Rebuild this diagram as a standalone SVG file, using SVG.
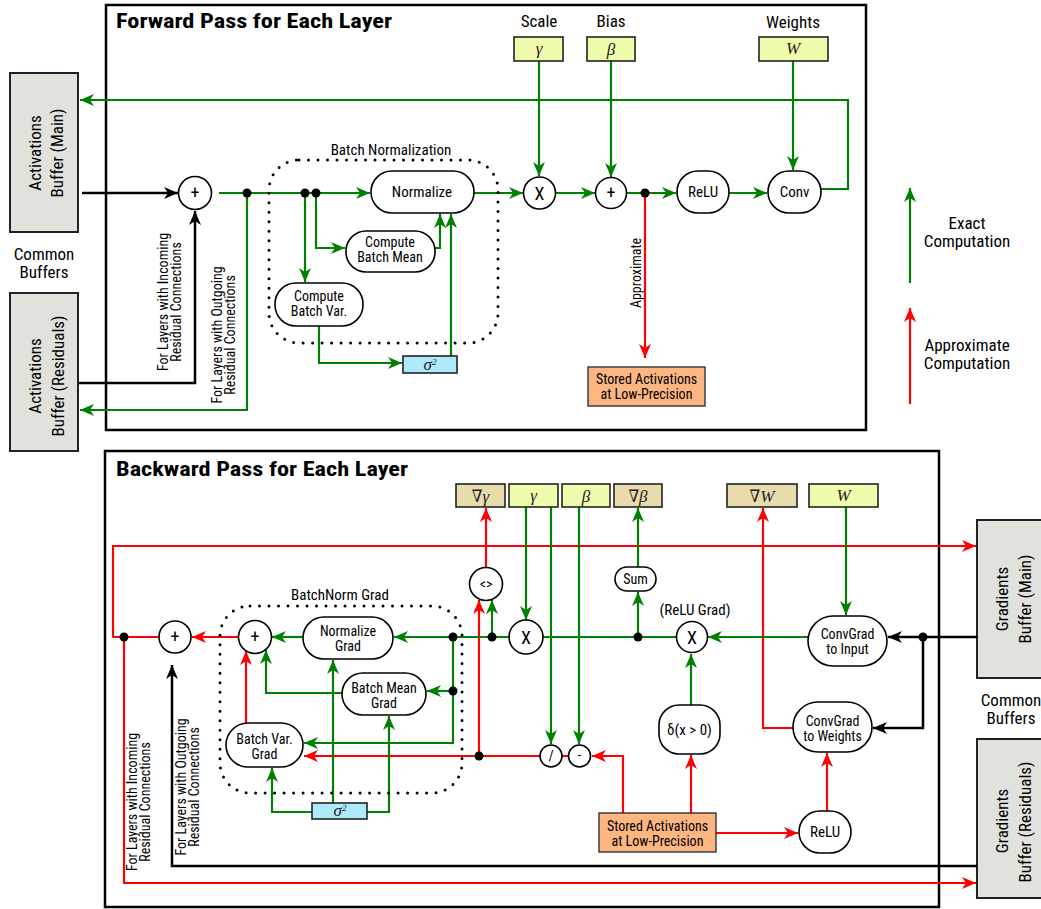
<svg xmlns="http://www.w3.org/2000/svg" width="1041" height="909" viewBox="0 0 1041 909">
<style>
text{font-family:Roboto,"Liberation Sans",sans-serif;font-stretch:condensed;font-size:15px;fill:#000;text-anchor:middle}
.title{font-weight:bold;font-size:21px;text-anchor:start}
.big{font-size:17px}
.lab{font-size:17px}
.two{font-size:14px}
.sm{font-size:14px}
.op{font-size:18px}
.m{font-family:"Liberation Serif","DejaVu Serif",serif;font-style:italic;font-size:17px;fill:#222}
.frame{fill:none;stroke:#000;stroke-width:2.5}
.buf{fill:#e2e2dc;stroke:#222;stroke-width:2}
.node{fill:#fff;stroke:#000;stroke-width:1.6}
.par{fill:#effcab;stroke:#222;stroke-width:1.6}
.grad{fill:#e8dcad;stroke:#222;stroke-width:1.6}
.sig{fill:#aeeafc;stroke:#222;stroke-width:1.6}
.act{fill:#fdb582;stroke:#333;stroke-width:1.4}
.dotbox{fill:none;stroke:#000;stroke-width:3;stroke-linecap:round;stroke-dasharray:0 9.5}
.g{fill:none;stroke:#008000;stroke-width:2.2}
.r{fill:none;stroke:#ff0000;stroke-width:2.2}
.k{fill:none;stroke:#000;stroke-width:2.5}
.ga{marker-end:url(#ag)}.ra{marker-end:url(#ar)}.ka{marker-end:url(#ak)}
</style>
<defs>
<marker id="ag" markerUnits="userSpaceOnUse" markerWidth="16" markerHeight="14" viewBox="-1 -7 16 14" refX="14" refY="0" orient="auto"><path d="M0,-6 L14,0 L0,6 L4,0 z" fill="#008000"/></marker>
<marker id="ar" markerUnits="userSpaceOnUse" markerWidth="16" markerHeight="14" viewBox="-1 -7 16 14" refX="14" refY="0" orient="auto"><path d="M0,-6 L14,0 L0,6 L4,0 z" fill="#ff0000"/></marker>
<marker id="ak" markerUnits="userSpaceOnUse" markerWidth="16" markerHeight="14" viewBox="-1 -7 16 14" refX="14" refY="0" orient="auto"><path d="M0,-6 L14,0 L0,6 L4,0 z" fill="#000"/></marker>
</defs>
<rect width="1041" height="909" fill="#fff"/>

<!-- frames -->
<g id="forward-frame">
<rect class="frame" x="106" y="5" width="760" height="425"/>
<text class="title" x="116" y="28" textLength="276" lengthAdjust="spacingAndGlyphs">Forward Pass for Each Layer</text>
</g>
<g id="backward-frame">
<rect class="frame" x="105" y="451" width="834" height="456"/>
<text class="title" x="116" y="476" textLength="292" lengthAdjust="spacingAndGlyphs">Backward Pass for Each Layer</text>
</g>

<!-- buffers -->
<g id="act-main"><rect class="buf" x="10" y="73" width="68" height="159"/>
<text class="big" transform="translate(41,153) rotate(-90)">Activations</text>
<text class="big" transform="translate(63,153) rotate(-90)">Buffer (Main)</text></g>
<g id="common-top"><text class="big" x="44" y="260">Common</text><text class="big" x="44" y="278">Buffers</text></g>
<g id="act-res"><rect class="buf" x="10" y="293" width="68" height="158"/>
<text class="big" transform="translate(41,376) rotate(-90)">Activations</text>
<text class="big" transform="translate(64,376) rotate(-90)">Buffer (Residuals)</text></g>
<g id="grad-main"><rect class="buf" x="977" y="520" width="70" height="158"/>
<text class="big" transform="translate(1008,599) rotate(-90)">Gradients</text>
<text class="big" transform="translate(1031,599) rotate(-90)">Buffer (Main)</text></g>
<g id="common-bot"><text class="big" x="1011" y="706">Common</text><text class="big" x="1011" y="724">Buffers</text></g>
<g id="grad-res"><rect class="buf" x="977" y="739" width="70" height="159"/>
<text class="big" transform="translate(1008,821) rotate(-90)">Gradients</text>
<text class="big" transform="translate(1031,822) rotate(-90)">Buffer (Residuals)</text></g>

<!-- legend -->
<g id="legend">
<path class="g ga" d="M910,283 V188"/>
<text class="big" x="967" y="229">Exact</text><text class="big" x="967" y="247">Computation</text>
<path class="r ra" d="M910,404 V308"/>
<text class="big" x="967" y="351">Approximate</text><text class="big" x="967" y="369">Computation</text>
</g>

<!-- forward connectors -->
<g id="forward-connectors">
<path class="k ka" d="M82,193 H178"/>
<path class="k ka" d="M79,383 H195 V211"/>
<path class="g ga" d="M219,193 H370"/>
<path class="g ga" d="M247,193 V410 H80"/>
<path class="g ga" d="M305,193 V282"/>
<path class="g ga" d="M316,193 V248 H345"/>
<path class="g ga" d="M435,248 H440 V214"/>
<path class="g ga" d="M451,356 V214"/>
<path class="g ga" d="M319,326 V363 H402"/>
<path class="g ga" d="M474,193 H523"/>
<path class="g ga" d="M539,61 V176"/>
<path class="g ga" d="M556,193 H595"/>
<path class="g ga" d="M611,61 V177"/>
<path class="g ga" d="M627,193 H676"/>
<path class="g ga" d="M729,193 H767"/>
<path class="g ga" d="M793,61 V170"/>
<path class="g ga" d="M821,189 H848 V100 H80"/>
<path class="r ra" d="M645,193 V358"/>
<g fill="#000"><circle cx="247" cy="193" r="4.5"/><circle cx="305" cy="193" r="4.5"/><circle cx="316" cy="193" r="4.5"/><circle cx="645" cy="193" r="4.5"/></g>
<text class="sm" transform="translate(181,302) rotate(-90)"><tspan x="0" dy="-13">For Layers with Incoming</tspan><tspan x="0" dy="13">Residual Connections</tspan></text>
<text class="sm" transform="translate(235,335) rotate(-90)"><tspan x="0" dy="-13">For Layers with Outgoing</tspan><tspan x="0" dy="13">Residual Connections</tspan></text>
<text class="sm" transform="translate(641,273) rotate(-90)">Approximate</text>
</g>

<!-- forward nodes -->
<g id="bn-group"><rect class="dotbox" x="269" y="160" width="229" height="183" rx="30"/><text x="391" y="155">Batch Normalization</text></g>
<g id="f-plus1"><circle class="node" cx="195" cy="193" r="16.5"/><text class="op" x="195" y="199">+</text></g>
<g id="f-normalize"><rect class="node" x="371" y="171" width="103" height="42" rx="21"/><text x="422" y="197">Normalize</text></g>
<g id="f-mean"><rect class="node" x="346" y="231" width="89" height="41" rx="20"/><text class="two" x="390" y="247">Compute</text><text class="two" x="390" y="262">Batch Mean</text></g>
<g id="f-var"><rect class="node" x="275" y="283" width="88" height="43" rx="21"/><text class="two" x="319" y="301">Compute</text><text class="two" x="319" y="316">Batch Var.</text></g>
<g id="f-sigma"><rect class="sig" x="403" y="356" width="54" height="17"/><text class="m" x="430" y="370" font-size="13">σ<tspan font-size="9" dy="-5">2</tspan></text></g>
<g id="f-gamma"><text class="lab" x="539" y="27">Scale</text><rect class="par" x="514" y="37" width="49" height="24"/><text class="m" x="539" y="54">γ</text></g>
<g id="f-beta"><text class="lab" x="611" y="27">Bias</text><rect class="par" x="587" y="37" width="48" height="24"/><text class="m" x="611" y="55">β</text></g>
<g id="f-W"><text class="lab" x="793" y="28">Weights</text><rect class="par" x="759" y="37" width="69" height="24"/><text class="m" x="793" y="54">W</text></g>
<g id="f-mul"><circle class="node" cx="539.5" cy="193" r="16"/><text class="op" x="539.5" y="200">X</text></g>
<g id="f-plus2"><circle class="node" cx="611" cy="193" r="15.5"/><text class="op" x="611" y="199">+</text></g>
<g id="f-relu"><rect class="node" x="677" y="171" width="52" height="42" rx="21"/><text x="703" y="197">ReLU</text></g>
<g id="f-conv"><rect class="node" x="768" y="171" width="53" height="42" rx="21"/><text x="794.5" y="197">Conv</text></g>
<g id="f-stored"><rect class="act" x="588" y="367" width="117" height="39"/><text class="sm" x="646.5" y="384">Stored Activations</text><text class="sm" x="646.5" y="399">at Low-Precision</text></g>

<!-- backward connectors -->
<g id="backward-connectors">
<path class="k ka" d="M977,637 H888"/>
<path class="k ka" d="M923,637 V728 H873"/>
<path class="k ka" d="M977,866 H172 V665"/>
<path class="r ra" d="M159,637 H113 V546 H976"/>
<path class="r ra" d="M124,637 V883 H976"/>
<path class="r ra" d="M238,637 H192"/>
<path class="r ra" d="M246,723 V651"/>
<path class="r ra" d="M479,756 V600"/>
<path class="r ra" d="M486,567 V508"/>
<path class="r ra" d="M540,756 H304"/>
<path class="r" d="M562,756 H568"/>
<path class="r ra" d="M623,813 V756 H592"/>
<path class="r ra" d="M691,813 V755"/>
<path class="r ra" d="M716,833 H798"/>
<path class="r ra" d="M827,811 V753"/>
<path class="r ra" d="M793,728 H763 V508"/>
<path class="g ga" d="M808,637 H708"/>
<path class="g ga" d="M846,507 V615"/>
<path class="g" d="M676,637 H543"/>
<path class="g ga" d="M638,637 V592"/>
<path class="g ga" d="M638,567 V508"/>
<path class="g ga" d="M691,705 V654"/>
<path class="g ga" d="M526,507 V620"/>
<path class="g ga" d="M551,507 V744"/>
<path class="g ga" d="M579,507 V744"/>
<path class="g ga" d="M509,637 H394"/>
<path class="g ga" d="M492,637 V600"/>
<path class="g ga" d="M453,637 V743 H304"/>
<path class="g ga" d="M453,691 H427"/>
<path class="g ga" d="M303,637 H272"/>
<path class="g ga" d="M342,693 H266 V650"/>
<path class="g ga" d="M333,803 V660"/>
<path class="g ga" d="M312,812 H272 V768"/>
<path class="g ga" d="M367,812 H389 V716"/>
<g fill="#000"><circle cx="124" cy="637" r="4.5"/><circle cx="453" cy="637" r="4.5"/><circle cx="492" cy="637" r="4.5"/><circle cx="638" cy="637" r="4.5"/><circle cx="453" cy="691" r="4.5"/><circle cx="479" cy="756" r="4.5"/><circle cx="923" cy="637" r="4.5"/></g>
<text class="sm" transform="translate(150,802) rotate(-90)"><tspan x="0" dy="-13">For Layers with Incoming</tspan><tspan x="0" dy="13">Residual Connections</tspan></text>
<text class="sm" transform="translate(199,787) rotate(-90)"><tspan x="0" dy="-13">For Layers with Outgoing</tspan><tspan x="0" dy="13">Residual Connections</tspan></text>
</g>

<!-- backward nodes -->
<g id="bng-group"><rect class="dotbox" x="220" y="606" width="242" height="187" rx="30"/><text x="340" y="600">BatchNorm Grad</text></g>
<g id="b-plus-outer"><circle class="node" cx="175" cy="637" r="16"/><text class="op" x="175" y="643">+</text></g>
<g id="b-plus-inner"><circle class="node" cx="255" cy="637" r="16.5"/><text class="op" x="255" y="643">+</text></g>
<g id="b-normgrad"><rect class="node" x="303" y="617" width="90" height="42" rx="21"/><text class="two" x="348" y="636">Normalize</text><text class="two" x="348" y="651">Grad</text></g>
<g id="b-meangrad"><rect class="node" x="342" y="673" width="84" height="42" rx="21"/><text class="two" x="384" y="693">Batch Mean</text><text class="two" x="384" y="708">Grad</text></g>
<g id="b-vargrad"><rect class="node" x="226" y="723" width="77" height="44" rx="22"/><text class="two" x="264.5" y="744">Batch Var.</text><text class="two" x="264.5" y="759">Grad</text></g>
<g id="b-sigma"><rect class="sig" x="312" y="803" width="55" height="16"/><text class="m" x="340" y="816" font-size="13">σ<tspan font-size="9" dy="-5">2</tspan></text></g>
<g id="b-dgamma"><rect class="grad" x="456" y="484" width="49" height="23"/><text class="m" x="480.5" y="502"><tspan font-style="normal">∇</tspan>γ</text></g>
<g id="b-gamma"><rect class="par" x="509" y="484" width="49" height="23"/><text class="m" x="533.5" y="501">γ</text></g>
<g id="b-beta"><rect class="par" x="562" y="484" width="48" height="23"/><text class="m" x="586" y="502">β</text></g>
<g id="b-dbeta"><rect class="grad" x="614" y="484" width="48" height="23"/><text class="m" x="638" y="502"><tspan font-style="normal">∇</tspan>β</text></g>
<g id="b-dW"><rect class="grad" x="727" y="484" width="70" height="23"/><text class="m" x="762" y="502"><tspan font-style="normal">∇</tspan>W</text></g>
<g id="b-W"><rect class="par" x="809" y="484" width="69" height="23"/><text class="m" x="843.5" y="501">W</text></g>
<g id="b-inner"><circle class="node" cx="486" cy="584" r="16.5"/><text class="sm" x="486" y="589">&lt;&gt;</text></g>
<g id="b-sum"><rect class="node" x="615" y="567" width="41" height="24" rx="12"/><text class="sm" x="635.5" y="584">Sum</text></g>
<g id="b-mul-gamma"><circle class="node" cx="526" cy="637" r="17"/><text class="op" x="526" y="644">X</text></g>
<g id="b-relugrad"><text x="695" y="615">(ReLU Grad)</text><circle class="node" cx="692" cy="637" r="15.5"/><text class="op" x="692" y="644">X</text></g>
<g id="b-div"><circle class="node" cx="551" cy="756" r="11"/><text class="sm" x="551" y="761">/</text></g>
<g id="b-sub"><circle class="node" cx="579.5" cy="756" r="11"/><text class="sm" x="579.5" y="760">-</text></g>
<g id="b-delta"><rect class="node" x="659" y="705" width="61" height="49" rx="20"/><text x="689.5" y="735">δ(x &gt; 0)</text></g>
<g id="b-stored"><rect class="act" x="599" y="813" width="117" height="39"/><text class="sm" x="657.5" y="831">Stored Activations</text><text class="sm" x="657.5" y="846">at Low-Precision</text></g>
<g id="b-relu"><rect class="node" x="799" y="811" width="52" height="42" rx="21"/><text x="825" y="837">ReLU</text></g>
<g id="b-cgw"><rect class="node" x="793" y="702" width="79" height="50" rx="25"/><text class="two" x="832.5" y="725.5">ConvGrad</text><text class="two" x="832.5" y="740.5">to Weights</text></g>
<g id="b-cgi"><rect class="node" x="808" y="616" width="79" height="50" rx="25"/><text class="two" x="847.5" y="638.5">ConvGrad</text><text class="two" x="847.5" y="653.5">to Input</text></g>
</svg>
